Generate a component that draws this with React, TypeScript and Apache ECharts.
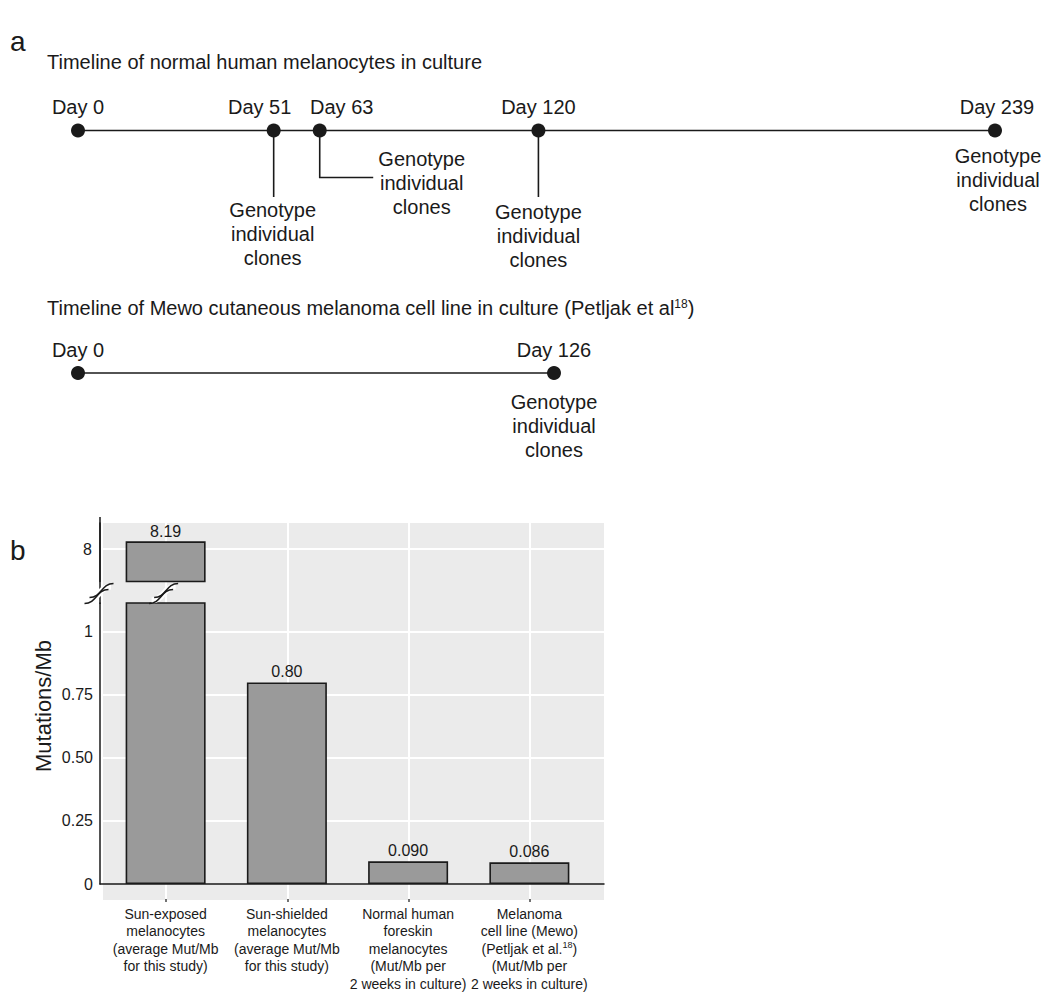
import React, { useEffect, useRef } from 'react';
import * as echarts from 'echarts';

// ---------- data ----------
const melanocyteDays = [0, 51, 63, 120, 239];
const melanocyteGenotyped = [51, 63, 120, 239];
const mewoDays = [0, 126];
const mewoGenotyped = [126];

const barCategories = [
  'Sun-exposed\nmelanocytes\n(average Mut/Mb\nfor this study)',
  'Sun-shielded\nmelanocytes\n(average Mut/Mb\nfor this study)',
  'Normal human\nforeskin\nmelanocytes\n(Mut/Mb per\n2 weeks in culture)',
  'Melanoma\ncell line (Mewo)\n(Petljak et al.{sup|18})\n(Mut/Mb per\n2 weeks in culture)',
];
const mutationsPerMb = [8.19, 0.8, 0.09, 0.086];

// broken axis ranges
const lowerMin = 0;
const lowerMax = 1.115;
const lowerInterval = 0.25;
const upperMin = 7.2;
const upperMax = 8.64;
const upperInterval = 0.8;
const upperTickShown = 8;

const FONT = "'Liberation Sans', Arial, Helvetica, sans-serif";
const INK = '#1a1a1a';
const GENO_TEXT = 'Genotype\nindividual\nclones';

// label nudges / annotation layout (styling only)
const dayLabelOffset: Record<number, number[]> = { 51: [-14, 0], 63: [22, 0], 239: [2, 0] };
const annotationLayout: Record<string, { leader: number[][] | null; dx: number; dy: number }> = {
  m51: { leader: [[0, 0], [0, 66.5]], dx: -1, dy: 67.5 },
  m63: { leader: [[0, 0], [0, 47], [53.5, 47]], dx: 102, dy: 16.5 },
  m120: { leader: [[0, 0], [0, 66.5]], dx: 0, dy: 69.5 },
  m239: { leader: null, dx: 3, dy: 13.5 },
  w126: { leader: null, dx: 0, dy: 17 },
};

const fmtBar = (v: number) => (v < 0.1 ? v.toFixed(3) : v.toFixed(2));
const fmtLowerTick = (v: number) => {
  if (Math.abs(v) < 1e-9) return '0';
  if (Math.abs(v - 1) < 1e-9) return '1';
  return v.toFixed(2);
};

const whiteLine = { color: '#ffffff', width: 2 };
const axisInk = { color: INK, width: 1.5 };

function buildOption() {
  const timelineSeries = (days: number[], axis: number) => ({
    type: 'line',
    xAxisIndex: axis,
    yAxisIndex: axis,
    data: days.map((d) => ({
      value: [d, 0],
      label: { offset: dayLabelOffset[d] || [0, 0] },
    })),
    symbol: 'circle',
    symbolSize: 14,
    itemStyle: { color: INK },
    lineStyle: { color: INK, width: 1.6 },
    label: {
      show: true,
      position: 'top',
      distance: 6.5,
      fontSize: 20,
      lineHeight: 20,
      color: INK,
      fontFamily: FONT,
      formatter: (p: any) => 'Day ' + p.value[0],
    },
    silent: true,
  });

  return {
    animation: false,
    backgroundColor: '#ffffff',
    textStyle: { fontFamily: FONT, color: INK },
    grid: [
      { left: 78, top: 80.5, width: 917, height: 100, outerBoundsMode: 'none' },
      { left: 78, top: 323, width: 476, height: 100, outerBoundsMode: 'none' },
      { left: 166, top: 523, width: 364, height: 376, outerBoundsMode: 'none' },
      { left: 100, top: 523, width: 504, height: 58.5, outerBoundsMode: 'none' },
      { left: 100, top: 603, width: 504, height: 281, outerBoundsMode: 'none' },
      { left: 105, top: 523, width: 485, height: 58.5, outerBoundsMode: 'none' },
      { left: 105, top: 603, width: 485, height: 281, outerBoundsMode: 'none' },
    ],
    xAxis: [
      { type: 'value', gridIndex: 0, min: 0, max: 239, show: false },
      { type: 'value', gridIndex: 1, min: 0, max: 126, show: false },
      {
        type: 'category', gridIndex: 2, data: barCategories, boundaryGap: false,
        axisLine: { show: false },
        axisTick: { show: true, interval: 0, length: 3, lineStyle: { color: '#444', width: 1.5 } },
        axisLabel: { show: false, interval: 0 },
        splitLine: { show: true, interval: 0, lineStyle: whiteLine },
      },
      { type: 'value', gridIndex: 3, show: false },
      {
        type: 'value', gridIndex: 4, min: 0, max: 1,
        axisLine: { show: true, onZero: false, lineStyle: axisInk },
        axisTick: { show: false }, axisLabel: { show: false }, splitLine: { show: false },
      },
      { type: 'category', gridIndex: 5, data: barCategories, show: false },
      {
        type: 'category', gridIndex: 6, data: barCategories,
        axisLine: { show: false }, axisTick: { show: false },
        axisLabel: {
          interval: 0, margin: 21, fontSize: 14, lineHeight: 17.5, color: INK, fontFamily: FONT,
          rich: { sup: { fontSize: 9, lineHeight: 12, verticalAlign: 'top', fontFamily: FONT, color: INK } },
        },
        splitLine: { show: false },
      },
    ],
    yAxis: [
      { type: 'value', gridIndex: 0, min: -1, max: 1, show: false },
      { type: 'value', gridIndex: 1, min: -1, max: 1, show: false },
      { type: 'value', gridIndex: 2, show: false },
      {
        type: 'value', gridIndex: 3, min: upperMin, max: upperMax, interval: upperInterval,
        axisLine: { show: true, lineStyle: axisInk }, axisTick: { show: false },
        axisLabel: {
          fontSize: 16, margin: 8, color: INK, fontFamily: FONT, showMinLabel: false, showMaxLabel: false,
          formatter: (v: number) => (Math.abs(v - upperTickShown) < 1e-6 ? String(upperTickShown) : ''),
        },
        splitLine: { show: true, showMinLine: false, showMaxLine: false, lineStyle: whiteLine },
      },
      {
        type: 'value', gridIndex: 4, min: lowerMin, max: lowerMax, interval: lowerInterval,
        axisLine: { show: true, lineStyle: axisInk }, axisTick: { show: false },
        axisLabel: { fontSize: 16, margin: 7, color: INK, fontFamily: FONT, showMaxLabel: false, formatter: fmtLowerTick },
        splitLine: { show: true, showMinLine: false, showMaxLine: false, lineStyle: whiteLine },
      },
      { type: 'value', gridIndex: 5, min: upperMin, max: upperMax, show: false },
      { type: 'value', gridIndex: 6, min: lowerMin, max: lowerMax, show: false },
    ],
    series: [
      timelineSeries(melanocyteDays, 0),
      timelineSeries(mewoDays, 1),
      {
        type: 'bar', xAxisIndex: 5, yAxisIndex: 5, barWidth: 80, clip: true,
        data: mutationsPerMb.map((v) => (v > lowerMax ? v : '-')),
        itemStyle: { color: '#9a9a9a', borderColor: INK, borderWidth: 1.6 },
        label: { show: true, position: 'top', distance: 2, fontSize: 16, color: INK, fontFamily: FONT, formatter: (p: any) => fmtBar(p.value) },
        silent: true, z: 3,
      },
      {
        type: 'bar', xAxisIndex: 6, yAxisIndex: 6, barWidth: 80, clip: true,
        data: mutationsPerMb,
        itemStyle: { color: '#9a9a9a', borderColor: INK, borderWidth: 1.6 },
        label: {
          show: true, position: 'top', distance: 3, fontSize: 16, color: INK, fontFamily: FONT,
          formatter: (p: any) => (p.value > lowerMax ? '' : fmtBar(p.value)),
        },
        silent: true, z: 3,
      },
    ],
  };
}

function squiggle(cx: number, cy: number): any[] {
  const shape = (dx: number, dy: number) => ({
    x1: cx - 12 + dx, y1: cy + 7 + dy,
    cpx1: cx - 12 + dx + 12, cpy1: cy + 7 + dy,
    cpx2: cx + 12 + dx - 12, cpy2: cy - 7 + dy,
    x2: cx + 12 + dx, y2: cy - 7 + dy,
  });
  return [
    { type: 'bezierCurve', shape: shape(0, 0.5), style: { stroke: '#ffffff', lineWidth: 6, fill: null }, z: 20, silent: true },
    { type: 'bezierCurve', shape: shape(2.5, -2.5), style: { stroke: INK, lineWidth: 1.6, fill: null }, z: 21, silent: true },
    { type: 'bezierCurve', shape: shape(-2.5, 3.5), style: { stroke: INK, lineWidth: 1.6, fill: null }, z: 21, silent: true },
  ];
}

export default function App() {
  const ref = useRef<HTMLDivElement>(null);
  useEffect(() => {
    document.body.style.margin = '0';
    document.body.style.overflow = 'hidden';
    const chart = echarts.init(ref.current!, null, { renderer: 'svg' });
    chart.setOption(buildOption());

    const elements: any[] = [];
    // plot background (grey panel, extends below the x axis)
    elements.push({ type: 'rect', shape: { x: 103, y: 523, width: 501, height: 377 }, style: { fill: '#ebebeb' }, z: -10, silent: true });
    // y axis line through the break
    elements.push({ type: 'line', shape: { x1: 100, y1: 517, x2: 100, y2: 604 }, style: { stroke: INK, lineWidth: 1.5 }, z: 5, silent: true });

    // panel letters and titles
    elements.push({ type: 'text', x: 10, y: 27, style: { text: 'a', fontSize: 28, fontFamily: FONT, fill: INK, verticalAlign: 'alphabetic' }, silent: true });
    elements.push({ type: 'text', x: 10, y: 536, style: { text: 'b', fontSize: 28, fontFamily: FONT, fill: INK, verticalAlign: 'alphabetic' }, silent: true });
    elements.push({ type: 'text', x: 47, y: 62, style: { text: 'Timeline of normal human melanocytes in culture', fontSize: 20, fontFamily: FONT, fill: INK, verticalAlign: 'middle' }, silent: true });
    elements.push({
      type: 'text', x: 47, y: 308,
      style: {
        text: 'Timeline of Mewo cutaneous melanoma cell line in culture (Petljak et al{sup|18})',
        fontSize: 20, fontFamily: FONT, fill: INK, verticalAlign: 'middle',
        rich: { sup: { fontSize: 12, fontFamily: FONT, fill: INK, verticalAlign: 'top', lineHeight: 14 } },
      },
      silent: true,
    });
    // y axis name
    elements.push({
      type: 'text', x: 43, y: 706, rotation: Math.PI / 2,
      style: { text: 'Mutations/Mb', fontSize: 22, fontFamily: FONT, fill: INK, align: 'center', verticalAlign: 'middle' },
      silent: true,
    });

    // genotype annotations (positioned through the timeline scales)
    const addAnnotations = (days: number[], seriesIndex: number, prefix: string) => {
      days.forEach((d) => {
        const [px, py] = chart.convertToPixel({ seriesIndex }, [d, 0]) as number[];
        const lay = annotationLayout[prefix + d];
        if (!lay) return;
        if (lay.leader) {
          elements.push({
            type: 'polyline',
            shape: { points: lay.leader.map(([x, y]) => [px + x, py + y]) },
            style: { stroke: INK, lineWidth: 1.6, fill: null },
            z: 1, silent: true,
          });
        }
        elements.push({
          type: 'text', x: px + lay.dx, y: py + lay.dy,
          style: { text: GENO_TEXT, fontSize: 20, lineHeight: 24, fontFamily: FONT, fill: INK, align: 'center', verticalAlign: 'top' },
          silent: true,
        });
      });
    };
    addAnnotations(melanocyteGenotyped, 0, 'm');
    addAnnotations(mewoGenotyped, 1, 'w');

    // break marks: on the axis and on the broken bar
    const [barX] = chart.convertToPixel({ xAxisIndex: 6, yAxisIndex: 6 }, [0, 0]) as number[];
    elements.push(...squiggle(99, 593));
    elements.push(...squiggle(barX - 2, 593));

    chart.setOption({ graphic: { elements } });
    return () => chart.dispose();
  }, []);
  return <div ref={ref} style={{ width: 1050, height: 1001 }} />;
}
